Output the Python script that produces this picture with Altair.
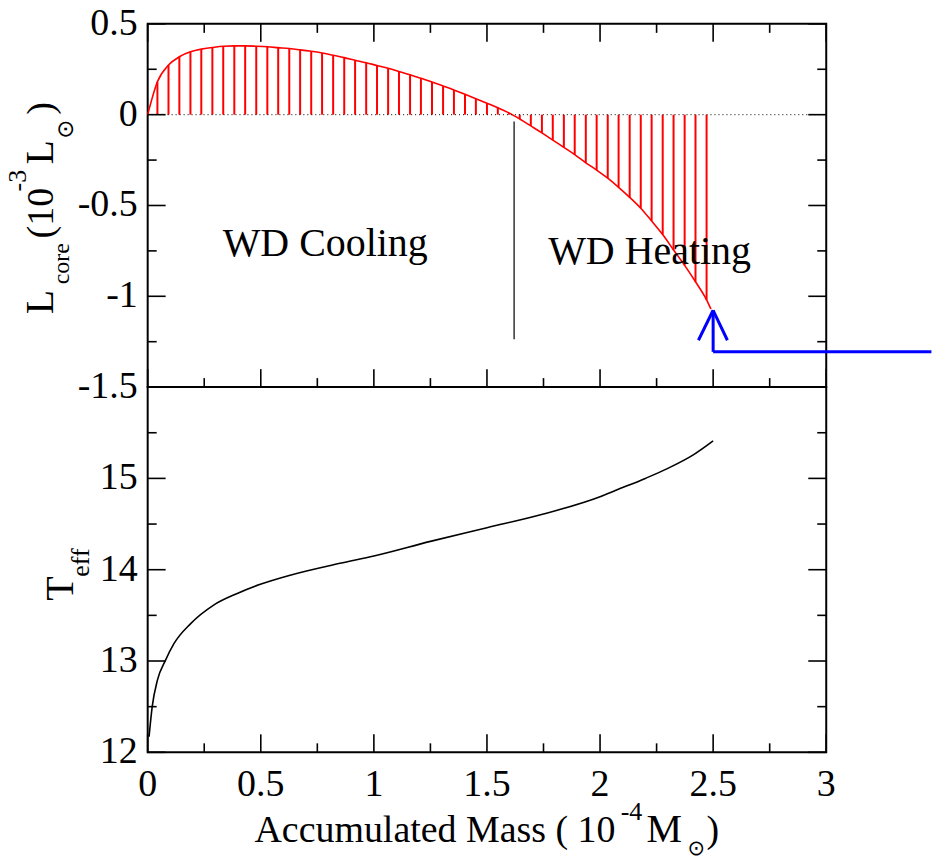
import altair as alt
import pandas as pd

# ---------------- data ----------------
mass_L = [0.0, 0.043, 0.092, 0.140, 0.189, 0.237, 0.286, 0.334, 0.383, 0.431, 0.480,
          0.529, 0.577, 0.626, 0.674, 0.723, 0.771, 0.820, 0.869, 0.917, 0.966,
          1.014, 1.063, 1.111, 1.160, 1.208, 1.257, 1.306, 1.354, 1.403, 1.451,
          1.500, 1.548, 1.597, 1.645, 1.694, 1.743, 1.791, 1.840, 1.888, 1.937,
          1.985, 2.034, 2.082, 2.131, 2.180, 2.228, 2.277, 2.325, 2.374, 2.422,
          2.471, 2.490]
L_core = [0.0, 0.181, 0.273, 0.319, 0.346, 0.361, 0.370, 0.377, 0.379, 0.379, 0.377,
          0.374, 0.369, 0.364, 0.357, 0.349, 0.340, 0.327, 0.314, 0.300, 0.286,
          0.271, 0.256, 0.238, 0.220, 0.200, 0.180, 0.158, 0.136, 0.112, 0.088,
          0.063, 0.038, 0.010, -0.024, -0.062, -0.100, -0.140, -0.180, -0.220, -0.265,
          -0.305, -0.350, -0.400, -0.455, -0.515, -0.585, -0.660, -0.745, -0.830, -0.920,
          -1.020, -1.070]

mass_T = [0.006, 0.02, 0.043, 0.079, 0.116, 0.19, 0.29, 0.396, 0.498, 0.63, 0.85,
          1.0, 1.25, 1.5, 1.75, 2.0, 2.07, 2.2, 2.3, 2.414, 2.5]
T_eff = [12.17, 12.50, 12.79, 13.01, 13.19, 13.41, 13.61, 13.74, 13.84, 13.94, 14.07,
         14.15, 14.31, 14.46, 14.61, 14.80, 14.87, 15.00, 15.11, 15.26, 15.41]

x_major = [0, 0.5, 1, 1.5, 2, 2.5, 3]
x_minor = [0.25, 0.75, 1.25, 1.75, 2.25, 2.75]
x_tick_labels = ["0", "0.5", "1", "1.5", "2", "2.5", "3"]
L_major = [-1.5, -1, -0.5, 0, 0.5]
L_minor = [-1.25, -0.75, -0.25, 0.25]
L_tick_labels = ["-1.5", "-1", "-0.5", "0", "0.5"]
T_major = [12, 13, 14, 15, 16]
T_minor = [12.5, 13.5, 14.5, 15.5]
T_label_values = [12, 13, 14, 15]
T_tick_labels = ["12", "13", "14", "15"]

# annotations
divider_mass = [1.62]
divider_top = [-0.038]
divider_bottom = [-1.236]
arrow_x1 = [2.5, 2.5, 2.5, 2.5]
arrow_y1 = [-1.306, -1.077, -1.077, -1.306]
arrow_x2 = [2.5, 2.435, 2.563, 3.465]
arrow_y2 = [-1.077, -1.242, -1.242, -1.306]
notes = ["WD Cooling", "WD Heating"]
notes_mass = [0.785, 2.219]
notes_L = [-0.780, -0.824]

SERIF = "Liberation Serif"
SYMB = "DejaVu Sans"
W, H1, H2 = 680, 364, 366
MAJ, MIN = 18, 9
TICKFS = 38

xs = alt.Scale(domain=[0, 3], nice=False, zero=False)
ys1 = alt.Scale(domain=[-1.5, 0.5], nice=False, zero=False)
ys2 = alt.Scale(domain=[12, 16], nice=False, zero=False)


def one():
    return pd.DataFrame({"a": [0]})


def piece(s, px, py, size, ox, oy, angle=0, font=SERIF):
    return alt.Chart(one()).mark_text(
        text=s, font=font, fontSize=size, align="left", baseline="alphabetic",
        angle=angle, color="black"
    ).encode(x=alt.value(px - ox), y=alt.value(py - oy))


def xticks(vals, scale, y0, y1):
    return alt.Chart(pd.DataFrame({"v": vals})).mark_rule(color="black", strokeWidth=1.6).encode(
        x=alt.X("v:Q", scale=scale, axis=None), y=alt.value(y0), y2=alt.value(y1))


def yticks(vals, scale, x0, x1):
    return alt.Chart(pd.DataFrame({"v": vals})).mark_rule(color="black", strokeWidth=1.6).encode(
        y=alt.Y("v:Q", scale=scale, axis=None), x=alt.value(x0), x2=alt.value(x1))


def ylabels(vals, texts, scale):
    return alt.Chart(pd.DataFrame({"v": vals, "t": texts})).mark_text(
        font=SERIF, fontSize=TICKFS, align="right", baseline="middle", color="black").encode(
        y=alt.Y("v:Q", scale=scale, axis=None), x=alt.value(-10), text="t:N")


def xlabels(vals, texts, scale, ypx):
    return alt.Chart(pd.DataFrame({"v": vals, "t": texts})).mark_text(
        font=SERIF, fontSize=TICKFS, align="center", baseline="alphabetic", color="black").encode(
        x=alt.X("v:Q", scale=scale, axis=None), y=alt.value(ypx), text="t:N")


# ---------------- upper panel ----------------
dfL = pd.DataFrame({"m": mass_L, "L": L_core})
dfH = pd.DataFrame({"m": mass_L[1:-1], "L": L_core[1:-1]})

curve = alt.Chart(dfL).mark_line(color="red", strokeWidth=1.6, interpolate="monotone").encode(
    x=alt.X("m:Q", scale=xs, axis=None),
    y=alt.Y("L:Q", scale=ys1, axis=None),
)
hatch = alt.Chart(dfH).mark_rule(color="red", strokeWidth=2).encode(
    x=alt.X("m:Q", scale=xs, axis=None),
    y=alt.Y("L:Q", scale=ys1, axis=None),
    y2=alt.datum(0),
)
zero_line = alt.Chart(one()).mark_rule(color="black", strokeWidth=1, strokeDash=[1, 3]).encode(
    y=alt.Y(datum=0, scale=ys1, axis=None), x=alt.value(0), x2=alt.value(W))
divider = alt.Chart(pd.DataFrame({"m": divider_mass, "t": divider_top, "b": divider_bottom})).mark_rule(
    color="black", strokeWidth=1.2).encode(
    x=alt.X("m:Q", scale=xs, axis=None), y=alt.Y("t:Q", scale=ys1, axis=None), y2="b:Q")
arrow = alt.Chart(pd.DataFrame({"x1": arrow_x1, "y1": arrow_y1, "x2": arrow_x2, "y2": arrow_y2})).mark_rule(
    color="#0000ff", strokeWidth=3).encode(
    x=alt.X("x1:Q", scale=xs, axis=None), y=alt.Y("y1:Q", scale=ys1, axis=None), x2="x2:Q", y2="y2:Q")
labels = alt.Chart(pd.DataFrame({"m": notes_mass, "L": notes_L, "t": notes})).mark_text(
    font=SERIF, fontSize=40, align="center", baseline="alphabetic", color="black").encode(
    x=alt.X("m:Q", scale=xs, axis=None), y=alt.Y("L:Q", scale=ys1, axis=None), text="t:N")
anchor = alt.Chart(one()).mark_rule(opacity=0, strokeWidth=0.1).encode(
    x=alt.value(-147), x2=alt.value(-146), y=alt.value(-22))

ox, oy = 147, 22
title1 = [
    piece("L", 52, 313, 40, ox, oy, 270),
    piece("core", 68, 283, 24, ox, oy, 270),
    piece("(10", 52, 237, 38, ox, oy, 270),
    piece("-3", 25, 190, 26, ox, oy, 270),
    piece("L", 52, 163, 40, ox, oy, 270),
    piece("\u2299", 72, 137, 23, ox, oy, 270, SYMB),
    piece(")", 52, 113, 38, ox, oy, 270),
]

top = alt.layer(
    curve, hatch, zero_line, divider, labels,
    xticks(x_major, xs, 0, MAJ), xticks(x_minor, xs, 0, MIN),
    xticks(x_major, xs, H1, H1 - MAJ), xticks(x_minor, xs, H1, H1 - MIN),
    yticks(L_major, ys1, 0, MAJ), yticks(L_minor, ys1, 0, MIN),
    yticks(L_major, ys1, W, W - MAJ), yticks(L_minor, ys1, W, W - MIN),
    ylabels(L_major, L_tick_labels, ys1),
    arrow, anchor, *title1,
).properties(width=W, height=H1)

# ---------------- lower panel ----------------
dfT = pd.DataFrame({"m": mass_T, "T": T_eff})
tcurve = alt.Chart(dfT).mark_line(color="black", strokeWidth=1.6, interpolate="monotone").encode(
    x=alt.X("m:Q", scale=xs, axis=None),
    y=alt.Y("T:Q", scale=ys2, axis=None),
)
ox2, oy2 = 147, 386
title2 = [
    piece("T", 72, 600, 40, ox2, oy2, 270),
    piece("eff", 88, 576, 26, ox2, oy2, 270),
]
xtitle = [
    piece("Accumulated Mass ( 10", 254, 842, 38, ox2, oy2),
    piece("-4", 621, 820, 26, ox2, oy2),
    piece("M", 647, 842, 40, ox2, oy2),
    piece("\u2299", 688, 855, 21, ox2, oy2, 0, SYMB),
    piece(")", 707, 842, 38, ox2, oy2),
]

bottom = alt.layer(
    tcurve,
    xticks(x_major, xs, H2, H2 - MAJ), xticks(x_minor, xs, H2, H2 - MIN),
    yticks(T_major, ys2, 0, MAJ), yticks(T_minor, ys2, 0, MIN),
    yticks(T_major, ys2, W, W - MAJ), yticks(T_minor, ys2, W, W - MIN),
    ylabels(T_label_values, T_tick_labels, ys2),
    xlabels(x_major, x_tick_labels, xs, 796 - 386),
    *title2, *xtitle,
).properties(width=W, height=H2)

chart = alt.vconcat(top, bottom, spacing=0, bounds="flush").properties(
    padding=0, background="white"
).configure_view(stroke="black", strokeWidth=2)

chart.save("out.html", embed_options={"renderer": "svg", "actions": False})
